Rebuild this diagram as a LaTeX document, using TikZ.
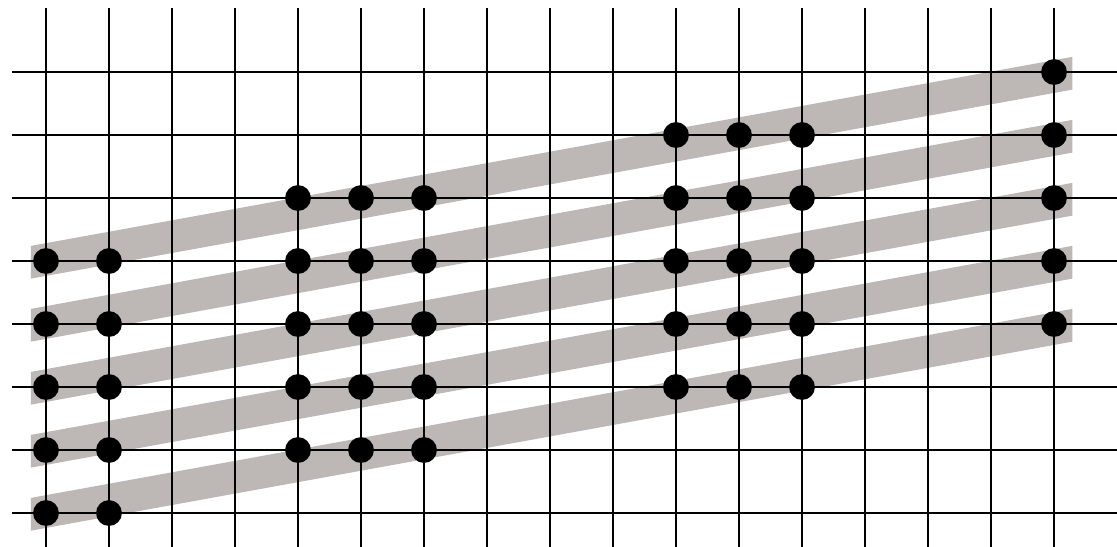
\documentclass[tikz,border=0pt]{standalone}
\usetikzlibrary{calc}
\definecolor{bandgray}{HTML}{BDB7B6}
\definecolor{dotblack}{HTML}{000000}

\begin{document}
\begin{tikzpicture}[line cap=round, line join=round, x=1cm, y=1cm]
      \useasboundingbox (-0.730,-0.524) rectangle (17.0,8.143);

      % Bandas inclinadas - Gris
      \foreach \j in {0,...,4}{
        \fill[bandgray] (-0.24,\j-0.28) -- (16.29,\j+2.72) -- (16.29,\j+3.24) -- (-0.24,\j+0.24) -- cycle;
      }

      % Rejilla - Negro
      \foreach \i in {0,...,16}{
        \draw[line width=0.9pt, line cap=butt] (\i,-0.6) -- (\i,8.02);
      }
      \foreach \j in {0,...,7}{
        \draw[line width=0.9pt, line cap=butt] (-0.54,\j) -- (17.1,\j);
      }

      % Puntos (columna/fila inicial)
      \foreach \c/\r in {0/0, 1/0, 4/1, 5/1, 6/1, 10/2, 11/2, 12/2, 16/3}{
        \foreach \k in {0,...,4}{
          \pgfmathtruncatemacro\fila{\r+\k}
          \node[circle, fill=dotblack, inner sep=0pt, minimum size=0.41cm] (p-\c-\fila) at (\c,\fila) {};
        }
      }
    \end{tikzpicture}
\end{document}
